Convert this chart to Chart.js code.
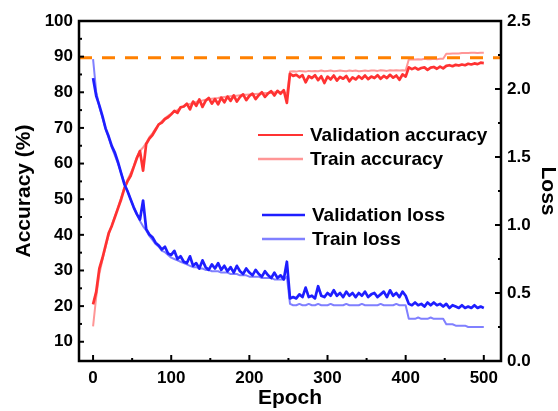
<!DOCTYPE html>
<html><head><meta charset="utf-8">
<script src="https://cdn.jsdelivr.net/npm/chart.js@4/dist/chart.umd.min.js"></script>
<style>html,body{margin:0;padding:0;background:#fff}canvas{display:block}</style>
</head><body>
<canvas id="c" width="558" height="411"></canvas>
<script>
// ---------------- data ----------------
const epochs = [
  0,4,8,12,16,20,24,28,32,36,
  40,44,48,52,56,60,64,68,72,76,
  80,84,88,92,96,100,104,108,112,116,
  120,124,128,132,136,140,144,148,152,156,
  160,164,168,172,176,180,184,188,192,196,
  200,204,208,212,216,220,224,228,232,236,
  240,244,248,252,256,260,264,268,272,276,
  280,284,288,292,296,300,304,308,312,316,
  320,324,328,332,336,340,344,348,352,356,
  360,364,368,372,376,380,384,388,392,396,
  400,404,408,412,416,420,424,428,432,436,
  440,444,448,452,456,460,464,468,472,476,
  480,484,488,492,496,500
];
const valAccuracy = [
  20.5,24.0,30.5,33.5,37.0,40.5,42.5,45.0,47.5,50.0,
  53.0,55.0,56.5,59.0,61.5,63.5,58.0,65.5,67.0,68.0,
  69.5,71.0,71.5,72.5,73.0,73.8,74.8,74.2,75.8,76.0,
  76.8,75.2,77.4,76.2,78.0,75.9,77.6,78.4,76.8,78.1,
  76.6,78.5,77.2,78.8,77.6,79.1,77.4,78.7,79.4,77.8,
  79.0,79.6,78.1,79.2,80.0,78.7,79.7,80.3,79.1,80.4,
  79.6,80.6,77.0,85.2,84.6,84.9,84.2,84.8,82.8,84.5,
  84.0,84.8,83.4,84.5,82.6,84.4,83.6,84.7,83.3,84.3,
  83.8,84.6,83.1,84.2,83.6,84.5,83.8,84.7,83.7,84.4,
  84.0,84.8,83.8,84.6,84.0,84.9,84.1,84.7,83.5,85.0,
  84.4,87.0,86.5,86.9,86.4,86.8,87.0,86.3,86.9,87.1,
  86.6,87.2,86.7,87.4,87.6,87.3,87.7,87.5,87.8,87.6,
  88.0,87.8,88.1,87.9,88.3,88.2
];
const trainAccuracy = [
  14.3,22.5,29.0,33.0,36.5,40.0,42.8,45.2,47.8,50.5,
  53.2,55.5,57.2,59.3,61.8,63.6,64.5,65.8,67.4,68.5,
  69.8,70.9,71.9,72.7,73.4,74.0,74.6,75.0,75.6,76.0,
  76.5,76.7,77.1,77.3,77.6,77.7,77.9,78.1,78.2,78.3,
  78.4,78.6,78.7,78.8,78.9,79.0,79.0,79.2,79.3,79.3,
  79.4,79.5,79.5,79.6,79.7,79.8,79.8,79.9,80.0,80.1,
  80.1,80.2,79.5,85.8,85.9,85.8,86.0,85.9,85.8,86.0,
  85.9,86.0,85.9,86.1,85.9,86.0,86.1,85.9,86.0,86.1,
  86.0,85.9,86.1,86.0,86.1,85.9,86.0,86.1,86.0,86.1,
  86.1,86.0,86.2,86.1,86.0,86.2,86.1,86.2,86.1,86.2,
  86.1,89.2,89.3,89.2,89.3,89.2,89.4,89.3,89.3,89.4,
  89.3,89.4,89.4,90.8,90.8,90.9,90.9,90.9,91.0,91.0,
  91.0,91.1,91.1,91.0,91.1,91.1
];
const valLoss = [
  2.08,1.95,1.88,1.80,1.71,1.65,1.58,1.53,1.46,1.38,
  1.30,1.25,1.19,1.13,1.08,1.04,1.18,0.97,0.93,0.91,
  0.87,0.85,0.82,0.84,0.79,0.78,0.81,0.75,0.77,0.73,
  0.72,0.77,0.70,0.72,0.68,0.74,0.69,0.67,0.71,0.68,
  0.72,0.67,0.70,0.66,0.69,0.65,0.70,0.66,0.64,0.68,
  0.65,0.63,0.67,0.64,0.62,0.66,0.63,0.61,0.65,0.61,
  0.63,0.60,0.73,0.46,0.47,0.46,0.49,0.47,0.54,0.47,
  0.48,0.46,0.55,0.48,0.47,0.50,0.48,0.52,0.48,0.50,
  0.47,0.51,0.48,0.50,0.47,0.50,0.48,0.51,0.47,0.49,
  0.50,0.47,0.49,0.51,0.47,0.52,0.48,0.50,0.47,0.51,
  0.48,0.42,0.41,0.43,0.41,0.42,0.40,0.43,0.41,0.43,
  0.41,0.42,0.40,0.42,0.39,0.41,0.40,0.39,0.41,0.39,
  0.40,0.39,0.41,0.39,0.40,0.39
];
const trainLoss = [
  2.22,1.98,1.87,1.79,1.71,1.64,1.57,1.51,1.45,1.38,
  1.31,1.25,1.19,1.13,1.08,1.03,0.99,0.96,0.92,0.89,
  0.86,0.84,0.81,0.80,0.78,0.76,0.75,0.74,0.73,0.72,
  0.71,0.70,0.69,0.69,0.68,0.68,0.67,0.67,0.66,0.66,
  0.66,0.65,0.65,0.65,0.64,0.64,0.64,0.63,0.63,0.63,
  0.62,0.62,0.62,0.62,0.61,0.61,0.61,0.61,0.60,0.60,
  0.60,0.60,0.62,0.42,0.41,0.41,0.42,0.41,0.41,0.42,
  0.41,0.41,0.42,0.41,0.41,0.41,0.42,0.41,0.41,0.41,
  0.41,0.42,0.41,0.41,0.41,0.41,0.42,0.41,0.41,0.41,
  0.41,0.41,0.42,0.41,0.41,0.41,0.41,0.42,0.41,0.41,
  0.41,0.31,0.31,0.31,0.32,0.31,0.31,0.31,0.32,0.31,
  0.31,0.31,0.31,0.27,0.27,0.27,0.26,0.26,0.26,0.26,
  0.25,0.25,0.25,0.25,0.25,0.25
];
const targetAccuracy = 89.7;
const epochTicks = [0,100,200,300,400,500];
const epochMinorTicks = [50,150,250,350,450];
const accuracyTicks = [10,20,30,40,50,60,70,80,90,100];
const accuracyMinorTicks = [15,25,35,45,55,65,75,85,95];
const lossTicks = [0,0.5,1,1.5,2,2.5];
const lossMinorTicks = [0.25,0.75,1.25,1.75,2.25];
const seriesNames = ['Validation accuracy','Train accuracy','Validation loss','Train loss'];

// ---------------- styles ----------------
const FONT = '"Liberation Sans", Arial, sans-serif';
const COL = {
  va: 'rgb(255,50,50)',
  ta: 'rgb(255,150,150)',
  vl: 'rgb(30,30,255)',
  tl: 'rgb(128,128,255)',
  target: 'rgb(255,128,0)'
};
const pts = ys => epochs.map((e, i) => ({x: e, y: ys[i]}));

const framePlugin = {
  id: 'frame',
  afterDraw(chart) {
    const {ctx, chartArea: a, scales} = chart;
    const sx = scales.x, sy = scales.y, sy1 = scales.y1;
    ctx.save();
    ctx.strokeStyle = '#000';
    ctx.lineWidth = 2.5;
    ctx.strokeRect(a.left, a.top, a.right - a.left, a.bottom - a.top);
    ctx.lineWidth = 2;
    const seg = (x0, y0, x1, y1) => { ctx.beginPath(); ctx.moveTo(x0, y0); ctx.lineTo(x1, y1); ctx.stroke(); };
    epochTicks.forEach(v => { const p = sx.getPixelForValue(v); seg(p, a.bottom, p, a.bottom - 6); });
    epochMinorTicks.forEach(v => { const p = sx.getPixelForValue(v); seg(p, a.bottom, p, a.bottom - 3); });
    accuracyTicks.forEach(v => { const p = sy.getPixelForValue(v); seg(a.left, p, a.left + 5, p); });
    accuracyMinorTicks.forEach(v => { const p = sy.getPixelForValue(v); seg(a.left, p, a.left + 3, p); });
    lossTicks.forEach(v => { const p = sy1.getPixelForValue(v); seg(a.right, p, a.right - 6, p); });
    lossMinorTicks.forEach(v => { const p = sy1.getPixelForValue(v); seg(a.right, p, a.right - 3, p); });

    // legend
    const items = [
      {name: seriesNames[0], c: COL.va, y: 135, x0: 258, x1: 303, w: 2},
      {name: seriesNames[1], c: COL.ta, y: 159, x0: 258, x1: 303, w: 2.5},
      {name: seriesNames[2], c: COL.vl, y: 215, x0: 262, x1: 305, w: 2.5},
      {name: seriesNames[3], c: COL.tl, y: 239, x0: 262, x1: 305, w: 2.5}
    ];
    ctx.font = 'bold 19px ' + FONT;
    ctx.textBaseline = 'middle';
    ctx.textAlign = 'left';
    items.forEach(it => {
      ctx.strokeStyle = it.c; ctx.lineWidth = it.w;
      seg(it.x0, it.y, it.x1, it.y);
      ctx.fillStyle = '#000';
      ctx.fillText(it.name, it.x1 + 7, it.y + 1);
    });
    ctx.restore();
  }
};

const tickFont = {family: FONT, size: 17, weight: 'bold'};
const titleFont = {family: FONT, size: 21, weight: 'bold', lineHeight: 1};

new Chart(document.getElementById('c'), {
  type: 'line',
  data: {
    datasets: [
      {label: seriesNames[2], data: pts(valLoss), yAxisID: 'y1', borderColor: COL.vl, borderWidth: 2.7, order: 0},
      {label: seriesNames[3], data: pts(trainLoss), yAxisID: 'y1', borderColor: COL.tl, borderWidth: 2.0, order: 1},
      {label: seriesNames[0], data: pts(valAccuracy), yAxisID: 'y', borderColor: COL.va, borderWidth: 2.7, order: 2},
      {label: seriesNames[1], data: pts(trainAccuracy), yAxisID: 'y', borderColor: COL.ta, borderWidth: 2.0, order: 3},
      {label: 'target', data: [{x: -18, y: targetAccuracy}, {x: 522, y: targetAccuracy}], yAxisID: 'y',
       borderColor: COL.target, borderWidth: 3, borderDash: [13, 10], order: -1}
    ]
  },
  options: {
    responsive: false,
    animation: false,
    devicePixelRatio: 1,
    layout: {padding: {top: 21, left: 0, right: 0, bottom: 0}},
    elements: {point: {radius: 0}, line: {tension: 0, borderJoinStyle: 'round'}},
    plugins: {legend: {display: false}, tooltip: {enabled: false}},
    scales: {
      x: {
        type: 'linear', min: -18, max: 522,
        afterBuildTicks: s => { s.ticks = epochTicks.map(v => ({value: v})); },
        afterFit: s => { s.height = 50; },
        grid: {display: false, drawTicks: false},
        border: {display: false},
        ticks: {font: tickFont, color: '#000', padding: 7, maxRotation: 0},
        title: {display: true, text: 'Epoch', font: titleFont, color: '#000', padding: {top: 0, bottom: 2}}
      },
      y: {
        type: 'linear', position: 'left', min: 4.6, max: 100,
        afterBuildTicks: s => { s.ticks = accuracyTicks.map(v => ({value: v})); },
        afterFit: s => { s.width = 79; },
        grid: {display: false, drawTicks: false},
        border: {display: false},
        ticks: {font: tickFont, color: '#000', padding: 6},
        title: {display: true, text: 'Accuracy (%)', font: titleFont, color: '#000', padding: {top: 14, bottom: 0}}
      },
      y1: {
        type: 'linear', position: 'right', min: 0, max: 2.5,
        afterBuildTicks: s => { s.ticks = lossTicks.map(v => ({value: v})); },
        afterFit: s => { s.width = 57; },
        grid: {display: false, drawTicks: false},
        border: {display: false},
        ticks: {font: tickFont, color: '#000', padding: 6, callback: v => Number(v).toFixed(1)},
        title: {display: true, text: 'Loss', font: titleFont, color: '#000', padding: {top: 0, bottom: 0}}
      }
    }
  },
  plugins: [framePlugin]
});
</script>
</body></html>
